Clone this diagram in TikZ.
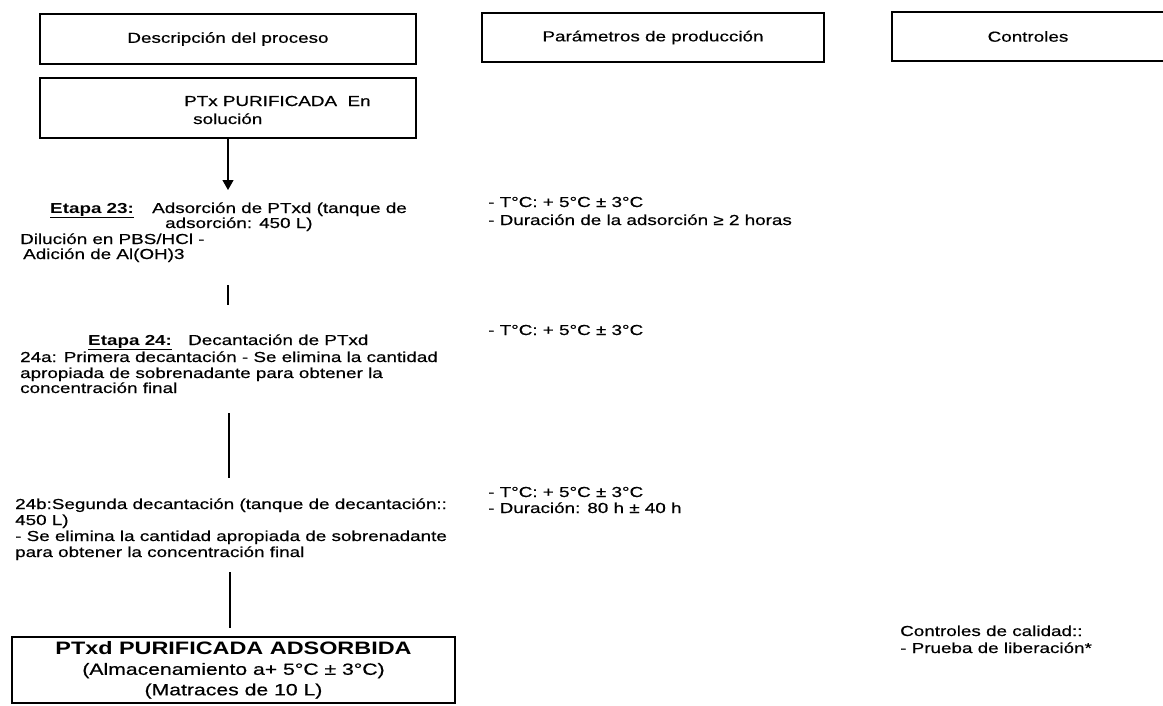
\documentclass[tikz,border=0pt]{standalone}
\usepackage{fontspec}
\setmainfont{Liberation Sans}[FakeStretch=1.3, UprightFeatures={FakeBold=0.5}]
\usetikzlibrary{arrows.meta}
\tikzset{
  txt/.style={anchor=base west, inner sep=0pt, font=\fontsize{14.5}{16}\selectfont},
  hdr/.style={draw, line width=1.2pt, inner sep=0pt, font=\fontsize{14.5}{16}\selectfont},
  conn/.style={line width=1.2pt},
  tip/.style={-{Triangle[width=11pt,length=10pt]}},
}
\begin{document}
\begin{tikzpicture}[x=1pt,y=-1pt]
\useasboundingbox (0,0) rectangle (1163,705);
\clip (0,0) rectangle (1163,705);
% headers
\node[hdr, minimum width=376pt, minimum height=50pt] (h1) at (228,39) {Descripción del proceso};
\node[hdr, minimum width=342pt, minimum height=49pt] (h2) at (653,37.5) {Parámetros de producción};
\node[hdr, minimum width=272pt, minimum height=49pt] (h3) at (1028,36.5) {Controles};
% start box
\node[hdr, minimum width=376pt, minimum height=60pt] (ptx) at (228,108) {};
\node[txt] (ptx1) at (184,106) {PTx PURIFICADA\ \ En};
\node[txt] (ptx2) at (193,124) {solución};
\coordinate (a23) at (228,190);
\draw[conn, tip] (ptx.south) -- (a23);
% Etapa 23
\node[txt] (e23) at (50,213) {\underline{\textbf{Etapa 23:}}};
\node[txt] (e23t1) at (152,213) {Adsorción de PTxd (tanque de};
\node[txt] (e23t2) at (165,228) {adsorción: 450 L)};
\node[txt] (e23t3) at (20,244) {Dilución en PBS/HCl -};
\node[txt] (e23t4) at (23,259) {Adición de Al(OH)3};
\coordinate (l1a) at (228,285);
\coordinate (l1b) at (228,305);
\draw[conn] (l1a) -- (l1b);
% Etapa 24
\node[txt] (e24) at (88,345) {\underline{\textbf{Etapa 24:}}};
\node[txt] (e24t1) at (188,345) {Decantación de PTxd};
\node[txt] (e24t2) at (20,362) {24a: Primera decantación - Se elimina la cantidad};
\node[txt] (e24t3) at (20,378) {apropiada de sobrenadante para obtener la};
\node[txt] (e24t4) at (20,393) {concentración final};
\coordinate (l2a) at (229,413);
\coordinate (l2b) at (229,478);
\draw[conn] (l2a) -- (l2b);
% 24b
\node[txt] (b1) at (15,509) {24b:Segunda decantación (tanque de decantación::};
\node[txt] (b2) at (15,525) {450 L)};
\node[txt] (b3) at (15,541) {- Se elimina la cantidad apropiada de sobrenadante};
\node[txt] (b4) at (15,557) {para obtener la concentración final};
\coordinate (l3a) at (230,572);
\coordinate (l3b) at (230,628);
\draw[conn] (l3a) -- (l3b);
% final box
\node[hdr, minimum width=443pt, minimum height=66pt, align=center,
      font=\fontsize{16.3}{20.5}\selectfont] (fin) at (233.5,670)
  {{\fontsize{18}{20}\selectfont\bfseries PTxd PURIFICADA ADSORBIDA}\\
   (Almacenamiento a+ 5°C ± 3°C)\\ (Matraces de 10 L)};
% parameters
\node[txt] (p1) at (488,207) {- T°C: + 5°C ± 3°C};
\node[txt] (p2) at (488,225) {- Duración de la adsorción ≥ 2 horas};
\node[txt] (p3) at (488,335) {- T°C: + 5°C ± 3°C};
\node[txt] (p4) at (488,497) {- T°C: + 5°C ± 3°C};
\node[txt] (p5) at (488,513) {- Duración: 80 h ± 40 h};
% controls
\node[txt] (c1) at (900,636) {Controles de calidad::};
\node[txt] (c2) at (900,653) {- Prueba de liberación*};
\end{tikzpicture}
\end{document}
